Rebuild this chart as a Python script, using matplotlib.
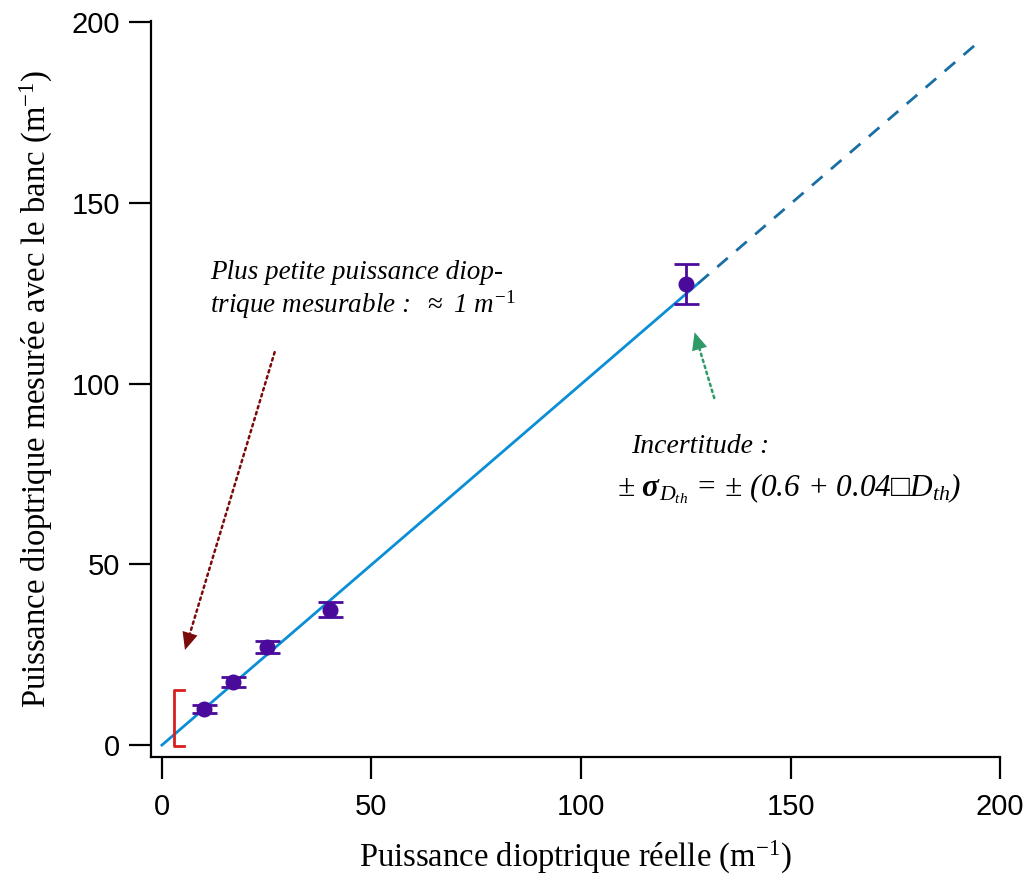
import numpy as np
import matplotlib
matplotlib.use('Agg')
import matplotlib.pyplot as plt

# ── data ─────────────────────────────────────────────────────────────────────
d_reelle = [10, 17, 25, 40, 125]
d_mesuree = [10.0, 17.5, 27.2, 37.5, 127.5]
d_err = [1.0, 1.3, 1.6, 2.2, 5.6]

fit_solid_x = [0, 128]
fit_dash_x = [128, 194]
fit_slope = 0.998

bracket_x, bracket_cap = 2.9, 5.2
bracket_lo, bracket_hi = -0.3, 15.2

xticks = [0, 50, 100, 150, 200]
yticks = [0, 50, 100, 150, 200]

# ── style ────────────────────────────────────────────────────────────────────
plt.rcParams.update({
    'font.family': 'Liberation Sans',
    'mathtext.fontset': 'custom',
    'mathtext.rm': 'Liberation Serif',
    'mathtext.it': 'Liberation Serif:italic',
    'mathtext.bf': 'Liberation Serif:bold:italic',
    'mathtext.fallback': 'stix',
})
SERIF = ['Liberation Serif', 'DejaVu Serif']

fig = plt.figure(figsize=(10.26, 8.82), dpi=100)
ax = fig.add_axes([0.1472, 0.1417, 0.8275, 0.8345])

# fit line y = x
ax.plot(fit_solid_x, [fit_slope * v for v in fit_solid_x],
        color='#0a8ed6', lw=2)
ax.plot(fit_dash_x, [fit_slope * v for v in fit_dash_x],
        color='#1a6ea3', lw=2, ls=(0, (5, 4)))

# measured points
ax.errorbar(d_reelle, d_mesuree, yerr=d_err, fmt='o', color='#4a0a9c',
            ms=10.5, elinewidth=2, capsize=9, capthick=2, zorder=3)

# smallest measurable bracket
ax.plot([bracket_cap, bracket_x, bracket_x, bracket_cap],
        [bracket_lo, bracket_lo, bracket_hi, bracket_hi],
        color='#d91e1e', lw=2)


def dotted_arrow(tail, tip, color):
    # dotted shaft, solid head
    ax.annotate('', xy=tip, xytext=tail,
                arrowprops=dict(arrowstyle='-', color=color, lw=1.8,
                                ls=(0, (1, 1.5)), shrinkA=0, shrinkB=6))
    ax.annotate('', xy=tip, xytext=tail,
                arrowprops=dict(arrowstyle='-|>,head_length=0.9,head_width=0.4',
                                mutation_scale=14, color=color, lw=0,
                                shrinkA=0, shrinkB=0))


dotted_arrow((26.9, 108.7), (5.5, 26.3), '#7d0a0a')
dotted_arrow((131.8, 96.0), (127.1, 114.2), '#2e9a68')

# annotations
ax.text(11.4, 130.6, 'Plus petite puissance diop-', family=SERIF,
        style='italic', fontsize=19.5, va='center', ha='left')
ax.text(11.4, 121.8, r'trique mesurable :  $\approx$ 1 $\mathit{m}^{\mathit{-1}}$',
        family=SERIF, style='italic', fontsize=19.5, va='center', ha='left')
ax.text(112, 82.6, 'Incertitude :', family=SERIF, style='italic',
        fontsize=20, va='center', ha='left')
ax.text(108.7, 70.8,
        '\u00b1 $\\mathbf{\\sigma}_{\\mathit{D}_{\\mathit{th}}}$ = \u00b1 '
        '(0.6 + 0.04\u25a1$\\mathit{D}_{\\mathit{th}}$)',
        family=SERIF, style='italic', fontsize=22.5, va='center', ha='left')

# axes
ax.set_xlim(-2.6, 200)
ax.set_ylim(-3.3, 200.3)
ax.set_xticks(xticks)
ax.set_yticks(yticks)
for s in ['top', 'right']:
    ax.spines[s].set_visible(False)
for s in ['left', 'bottom']:
    ax.spines[s].set_linewidth(1.6)
ax.tick_params(axis='both', direction='out', length=16, width=1.6,
               labelsize=21)
ax.tick_params(axis='x', pad=10)
ax.tick_params(axis='y', pad=6)

ax.set_xlabel(r'Puissance dioptrique réelle (m$^{\mathregular{-1}}$)',
              family=SERIF, fontsize=23.5, labelpad=13)
ax.set_ylabel(r'Puissance dioptrique mesurée avec le banc (m$^{\mathregular{-1}}$)',
              family=SERIF, fontsize=23.5, labelpad=12)

fig.savefig('out.png', dpi=100, facecolor='white')
